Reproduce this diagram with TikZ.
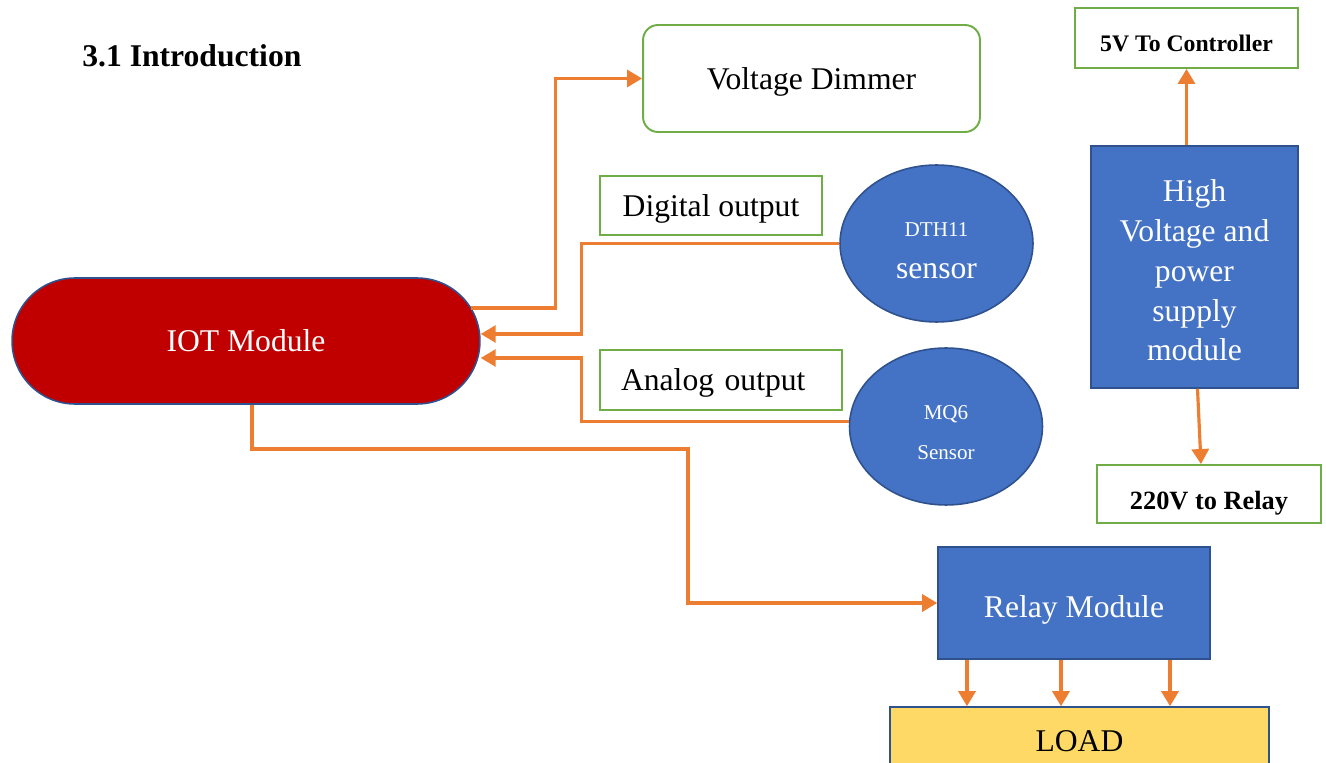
\documentclass[tikz,border=0pt]{standalone}
\usepackage{fontspec}
\setmainfont{Liberation Serif}
\usepackage{tikz}
\usetikzlibrary{arrows.meta,shapes.geometric}
\definecolor{leafgreen}{RGB}{112,173,71}
\definecolor{boxblue}{RGB}{68,114,196}
\definecolor{edgeblue}{RGB}{47,82,143}
\definecolor{wireorange}{RGB}{237,125,49}
\definecolor{iotred}{RGB}{192,0,0}
\definecolor{loadyellow}{RGB}{255,217,102}
\newcommand{\txtL}{\fontsize{18}{22.7}\selectfont}
\newcommand{\topgap}[1]{\rule{0pt}{#1}}

\begin{document}
\begin{tikzpicture}[x=0.02cm, y=-0.02cm, >={Triangle[length=0.3cm,width=0.34cm]},
  every node/.style={align=center, inner sep=0pt},
  lbl/.style={draw=leafgreen, line width=1.1pt, fill=white, text depth=0pt},
  blk/.style={draw=edgeblue, line width=0.9pt, fill=boxblue, text=white},
  sens/.style={ellipse, draw=edgeblue, line width=0.9pt, fill=boxblue, text=white,
    minimum width=3.86cm, minimum height=3.14cm},
  ar/.style={->, line width=1.8pt, draw=wireorange}]
\useasboundingbox (0,0) rectangle (1326,763);
\clip (0,0) rectangle (1326,763);
\node[anchor=west, font=\bfseries\fontsize{18}{22}\selectfont] (title) at (82,56) {3.1 Introduction};
\node[lbl, rounded corners=0.3cm, minimum width=6.74cm, minimum height=2.14cm, font=\txtL] (dimmer) at (811.5,78.5) {Voltage Dimmer};
\node[blk, fill=iotred, text depth=0pt, rounded corners=1.26cm, minimum width=9.36cm, minimum height=2.52cm, font=\txtL] (iot) at (246,341) {IOT Module};
\node[lbl, minimum width=4.44cm, minimum height=1.18cm, font=\txtL] (digital) at (711,205.5) {Digital output};
\node[lbl, text width=4.0cm, inner xsep=0.42cm, align=left, minimum height=1.2cm, font=\txtL] (analog) at (721,380) {Analog output};
\node[sens, font=\fontsize{18}{24}\selectfont] (dth) at (936.5,243.5) {{\fontsize{12}{14}\selectfont\topgap{16pt}DTH11}\\sensor};
\node[sens, font=\fontsize{12}{22.7}\selectfont] (mq) at (946,426.5) {\topgap{15.3pt}MQ6\\Sensor};
\node[blk, minimum width=4.14cm, minimum height=4.84cm, font=\txtL] (hv) at (1194.5,267) {\topgap{16.3pt}High\\Voltage and\\power\\supply\\module};
\node[lbl, text height=15pt, minimum width=4.46cm, minimum height=1.2cm, font=\bfseries\fontsize{13.5}{16}\selectfont] (ctrl) at (1186.5,38) {5V To Controller};
\node[lbl, text height=17.5pt, minimum width=4.48cm, minimum height=1.16cm, font=\bfseries\fontsize{15}{18}\selectfont] (r220) at (1209,494) {220V to Relay};
\node[blk, text depth=0pt, text height=16pt, minimum width=5.44cm, minimum height=2.24cm, font=\txtL] (relay) at (1074,603) {Relay Module};
\node[blk, fill=loadyellow, text=black, minimum width=7.58cm, minimum height=1.36cm, font=\txtL] (load) at (1079.5,741) {LOAD};
% wiring
\draw[ar] ([shift={(-10,-33)}]iot.east) -- ++(85,0) |- (dimmer.west);
\draw[ar] (dth.west) -- ++(-258,0) |- ([shift={(0,-7)}]iot.east);
\draw[ar] ([shift={(0,-5)}]mq.west) -- ++(-267,0) |- ([shift={(0,17)}]iot.east);
\draw[ar] ([shift={(6,0)}]iot.south) |- (688,449) |- (relay.west);
\draw[ar] ([shift={(-8,0)}]hv.north) -- (ctrl.south);
\draw[ar] ([shift={(3,0)}]hv.south) -- ([shift={(-8,0)}]r220.north);
\foreach \dx in {-107,-13,96}
  \draw[ar] ([shift={(\dx,0)}]relay.south) -- ([shift={(\dx,0)}]relay.south |- load.north);
\end{tikzpicture}
\end{document}
